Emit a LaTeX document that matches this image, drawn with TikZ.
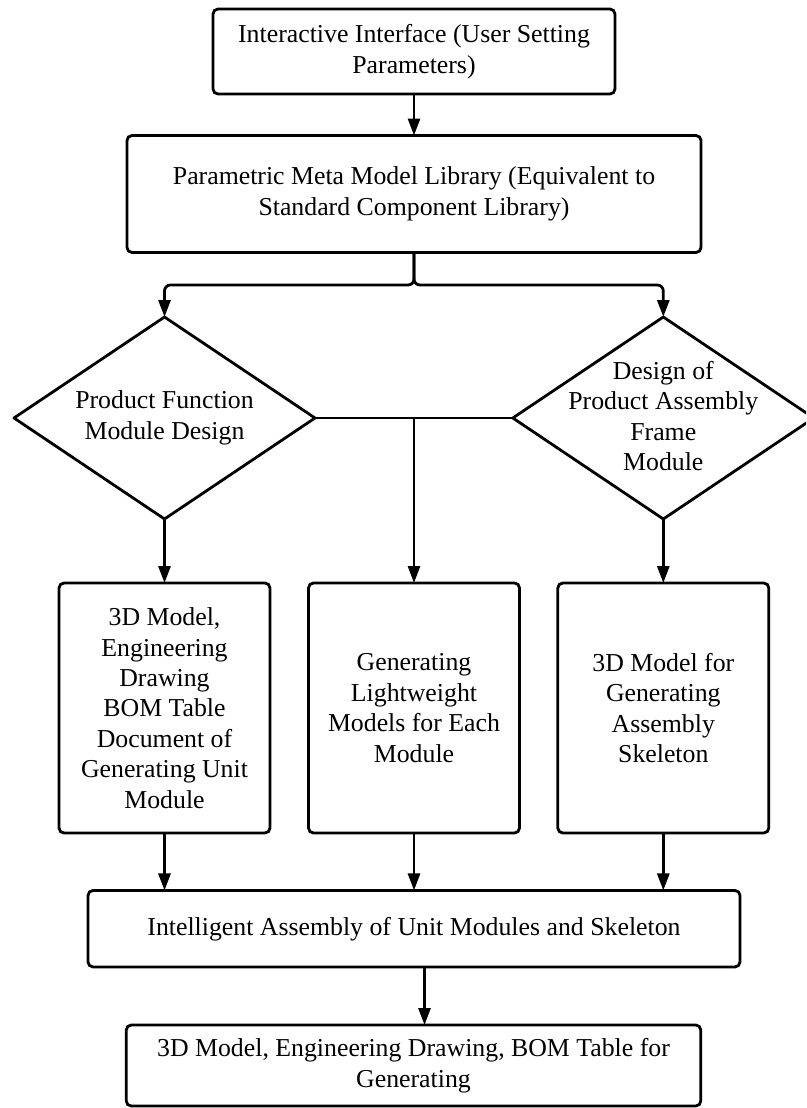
\documentclass[tikz,border=0pt]{standalone}
\usepackage{fontspec}
\setmainfont{Liberation Serif}
\usetikzlibrary{arrows.meta,shapes.geometric}
\begin{document}
\begin{tikzpicture}[x=1pt,y=-1pt,
  every node/.style={outer sep=0pt, inner sep=0pt},
  box/.style={draw, line width=2.8pt, rounded corners=5pt, align=center, font=\fontsize{25.8}{30.4}\selectfont},
  dia/.style={draw, diamond, line width=2.8pt, line join=round, minimum width=301pt, minimum height=202pt},
  lbl/.style={align=center, font=\fontsize{25.8}{30.4}\selectfont},
  conn/.style={line width=2.8pt},
  arr/.style={conn, -{Triangle[length=17pt,width=12pt]}}]
\clip (0,0) rectangle (806,1108);
\fill[white] (0,0) rectangle (806,1108);

\node[box, minimum width=402pt, minimum height=85pt] (t1) at (414,51.5) {Interactive Interface (User Setting\\Parameters)};
\node[box, minimum width=574pt, minimum height=117pt] (t2) at (414,194) {Parametric Meta Model Library (Equivalent to\\Standard Component Library)};

\node[dia] (d1) at (164.5,418) {};
\node[lbl] (d1t) at (164.5,418) {Product Function\\Module Design};
\node[dia] (d2) at (663.3,418) {};
\node[lbl] (d2t) at (663.3,416) {Design of\\Product Assembly\\Frame\\Module};

\node[box, minimum width=211pt, minimum height=250pt] (b1) at (164.5,708) {3D Model,\\Engineering\\Drawing\\BOM Table\\Document of\\Generating Unit\\Module};
\node[box, minimum width=211pt, minimum height=250pt] (b2) at (414,708) {Generating\\Lightweight\\Models for Each\\Module};
\node[box, minimum width=211pt, minimum height=250pt] (b3) at (663.3,708) {3D Model for\\Generating\\Assembly\\Skeleton};

\node[box, minimum width=652pt, minimum height=76.5pt] (asm) at (414,928.7) {Intelligent Assembly of Unit Modules and Skeleton};
\node[box, minimum width=574.5pt, minimum height=81pt] (out) at (413.5,1065.5) {3D Model, Engineering Drawing, BOM Table for\\Generating};

% connectors
\draw[arr] (t1.south) -- (t2.north);
\draw[arr, rounded corners=6pt] (t2.south) -- ++(0,32.5) -| (d1.north);
\draw[arr, rounded corners=6pt] (t2.south) -- ++(0,32.5) -| (d2.north);

\draw[conn] (d1.east) -- (d2.west);
\coordinate (hj) at (b2.north |- d1.east);
\draw[arr] (hj) -- (b2.north);
\draw[arr] (d1.south) -- (b1.north);
\draw[arr] (d2.south) -- (b3.north);

\draw[arr] (b1.south) -- (b1.south |- asm.north);
\draw[arr] (b2.south) -- (b2.south |- asm.north);
\draw[arr] (b3.south) -- (b3.south |- asm.north);

\coordinate (a5) at ([xshift=10.5pt]asm.south);
\draw[arr] (a5) -- (a5 |- out.north);
\end{tikzpicture}
\end{document}
